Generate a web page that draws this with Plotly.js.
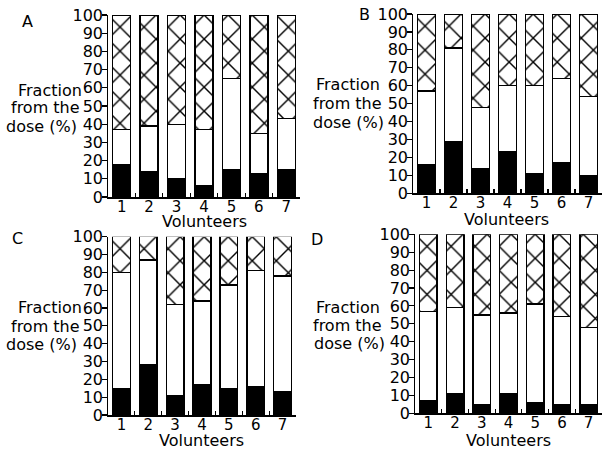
<!DOCTYPE html>
<html>
<head>
<meta charset="utf-8">
<script src="https://cdn.plot.ly/plotly-3.0.1.min.js"></script>
<style>html,body{margin:0;padding:0;background:#fff;}#chart{width:603px;height:449px;}</style>
</head>
<body>
<div id="chart"></div>
<script>
// ---- data (percent of dose) ----
const volunteers = ['1','2','3','4','5','6','7'];
const yTicks = [0,10,20,30,40,50,60,70,80,90,100];
const panelLabels = ['A','B','C','D'];

const blackA   = [18, 14, 10, 6, 15, 13, 15];
const whiteA   = [19, 25, 30, 31, 50, 22, 28];
const hatchedA = [63, 61, 60, 63, 35, 65, 57];

const blackB   = [16, 29, 14, 23, 11, 17, 10];
const whiteB   = [41, 52, 34, 37, 49, 47, 44];
const hatchedB = [43, 19, 52, 40, 40, 36, 46];

const blackC   = [15, 28, 11, 17, 15, 16, 13];
const whiteC   = [65, 59, 51, 47, 58, 65, 65];
const hatchedC = [20, 13, 38, 36, 27, 19, 22];

const blackD   = [7, 11, 5, 11, 6, 5, 5];
const whiteD   = [50, 48, 50, 45, 55, 49, 43];
const hatchedD = [43, 41, 45, 44, 39, 46, 52];

const W = 603, H = 449;
const fx = p => p / W;
const fy = p => 1 - p / H;
const FONT = 'DejaVu Sans';

const panels = [
  {k:'',  ok:'5', black:blackA, white:whiteA, hatched:hatchedA, x0:108, x1:300, y0:15,    y1:197,   lab:[27,21],  title:[[84,90],[82,108],[79,126]], vol:[204,221]},
  {k:'2', ok:'6', black:blackB, white:whiteB, hatched:hatchedB, x0:413, x1:602, y0:14,    y1:193.3, lab:[364,15], title:[[382,85],[384,103],[386,122]], vol:[507,219]},
  {k:'3', ok:'7', black:blackC, white:whiteC, hatched:hatchedC, x0:108, x1:296, y0:236.7, y1:415,   lab:[17,238], title:[[84,307],[82,326],[79,344]], vol:[202,440]},
  {k:'4', ok:'8', black:blackD, white:whiteD, hatched:hatchedD, x0:415, x1:602, y0:234.3, y1:413.3, lab:[317,239], title:[[382,307],[384,325],[387,343]], vol:[508,440]}
];

const traces = [];
const layout = {
  width: W, height: H,
  margin: {l:0, r:0, t:0, b:0},
  paper_bgcolor: '#fff', plot_bgcolor: 'rgba(0,0,0,0)',
  barmode: 'stack', bargap: 0.34,
  showlegend: false,
  font: {family: FONT, color: '#000', size: 16},
  annotations: []
};

const titleLines = ['Fraction', 'from the', 'dose (%)'];
const catIdx = volunteers.map((v, i) => i);

panels.forEach((p, i) => {
  const xa = 'x' + p.k, ya = 'y' + p.k;
  const xo = 'x' + p.ok, yo = 'y' + p.ok;
  const lineSpec = {color:'#000', width:1.4};
  traces.push({type:'bar', x:volunteers, y:p.black, xaxis:xa, yaxis:ya,
    marker:{color:'#000', line:lineSpec}, hoverinfo:'skip'});
  traces.push({type:'bar', x:volunteers, y:p.white, xaxis:xa, yaxis:ya,
    marker:{color:'#fff', line:lineSpec}, hoverinfo:'skip'});
  traces.push({type:'bar', x:volunteers, y:p.hatched, xaxis:xa, yaxis:ya,
    marker:{color:'#fff', line:lineSpec,
      pattern:{shape:'x', size:17, solidity:0.16, fgcolor:'#000', bgcolor:'#fff', fillmode:'replace'}},
    hoverinfo:'skip'});
  // empty trace so that the label-only overlay axes are drawn
  traces.push({type:'scatter', mode:'markers', x:[], y:[], xaxis:xo, yaxis:yo, hoverinfo:'skip'});

  // primary axes: lines and tick marks
  layout['xaxis' + p.k] = {
    domain:[fx(p.x0), fx(p.x1)], anchor: ya, type:'category',
    range:[-0.5, 6.5], showline:true, linecolor:'#000', linewidth:1.5,
    ticks:'inside', tickson:'boundaries', ticklen:4, tickcolor:'#000', tickwidth:1.2,
    showticklabels:false,
    showgrid:false, zeroline:false, fixedrange:true
  };
  layout['yaxis' + p.k] = {
    domain:[fy(p.y1), fy(p.y0)], anchor: xa, range:[0, 100],
    tickvals: yTicks, showline:true, linecolor:'#000', linewidth:1.5,
    ticks:'outside', ticklen:5, tickcolor:'#000', tickwidth:1.2,
    showticklabels:false,
    showgrid:false, zeroline:false, fixedrange:true
  };
  // overlay axes: tick labels only, placed close to the axis lines
  layout['xaxis' + p.ok] = {
    overlaying: xa, anchor:'free', position: fy(p.y1 - 1.5), type:'linear',
    range:[-0.5, 6.5], tickvals: catIdx, ticktext: volunteers,
    ticks:'', showline:false, showgrid:false, zeroline:false,
    tickfont:{size:15, family:FONT}, fixedrange:true
  };
  layout['yaxis' + p.ok] = {
    overlaying: ya, anchor:'free', position: fx(p.x0 - 5), side:'left', type:'linear',
    range:[0, 100], tickvals: yTicks, ticktext: yTicks.map(String),
    ticks:'', showline:false, showgrid:false, zeroline:false,
    tickfont:{size:16, family:FONT}, fixedrange:true
  };

  layout.annotations.push({text: panelLabels[i], xref:'paper', yref:'paper',
    x: fx(p.lab[0]), y: fy(p.lab[1]), xanchor:'center', yanchor:'middle', showarrow:false,
    font:{size:16, family:FONT}});
  titleLines.forEach((t, j) => {
    layout.annotations.push({text: t, xref:'paper', yref:'paper',
      x: fx(p.title[j][0]), y: fy(p.title[j][1]), xanchor:'right', yanchor:'middle',
      showarrow:false, font:{size:16, family:FONT}});
  });
  layout.annotations.push({text:'Volunteers', xref:'paper', yref:'paper',
    x: fx(p.vol[0]), y: fy(p.vol[1]), xanchor:'center', yanchor:'middle', showarrow:false,
    borderpad:0, font:{size:16, family:FONT}});
});

Plotly.newPlot('chart', traces, layout, {displayModeBar:false, staticPlot:true});
</script>
</body>
</html>
